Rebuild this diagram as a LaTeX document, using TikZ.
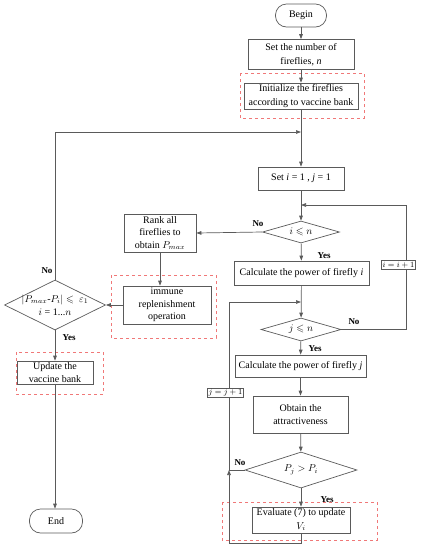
\documentclass[tikz,border=0pt]{standalone}
\usepackage{amssymb}
\usepackage{fontspec}
\setmainfont{Liberation Serif}
\usetikzlibrary{arrows.meta,shapes.geometric}
\definecolor{lc}{HTML}{5A5A5A}
\definecolor{dr}{HTML}{F07878}
\begin{document}
\begin{tikzpicture}[x=1pt,y=-1pt,
  box/.style={draw=lc, line width=0.7pt, rectangle, inner sep=0pt, align=center, font={\fontsize{10}{13.5}\selectfont}},
  box3/.style={box, font={\fontsize{10}{12.5}\selectfont}},
  term/.style={box, rounded corners=11pt},
  dia/.style={draw=lc, line width=0.7pt, diamond, inner sep=0pt},
  txt/.style={inner sep=0pt, align=center, font={\fontsize{10}{13}\selectfont}},
  lbl/.style={inner sep=0pt, font={\fontsize{9}{10}\selectfont\bfseries}},
  small/.style={draw=lc, line width=0.6pt, fill=white, inner sep=1.2pt, font={\fontsize{8.5}{9}\selectfont}},
  vac/.style={draw=dr, dashed, line width=0.7pt},
  ln/.style={draw=lc, line width=0.7pt},
  arr/.style={ln, -{Triangle[length=5pt,width=3.6pt]}}
]
\useasboundingbox (0,0) rectangle (426,550);

% dashed vaccine regions
\draw[vac] (240,73) rectangle (364,118);
\draw[vac] (111,275) rectangle (216,338);
\draw[vac] (16,352) rectangle (103,394);
\draw[vac] (222,502) rectangle (377,540);

% main column
\node[term, minimum width=51pt, minimum height=23pt] (begin) at (301,15.5) {Begin};
\node[box, minimum width=106pt, minimum height=30pt] (set) at (301,54.5) {Set the number of\\fireflies, \textit{n}};
\node[box, minimum width=114pt, minimum height=26pt] (init) at (301,96) {Initialize the fireflies\\according to vaccine bank};
\node[box, minimum width=86pt, minimum height=23pt] (seti) at (301,178.5) {Set \textit{i} = 1 , \textit{j} = 1};
\node[dia, minimum width=77pt, minimum height=22pt] (idia) at (301,232) {};
\node[txt] (idiat) at (301,232) {$i \leqslant n$};
\node[box, minimum width=135pt, minimum height=24pt] (calci) at (301.5,273) {Calculate the power of firefly \textit{i}};
\node[dia, minimum width=80pt, minimum height=23pt] (jdia) at (301,329.5) {};
\node[txt] (jdiat) at (301,329.5) {$j \leqslant n$};
\node[box, minimum width=131pt, minimum height=22pt] (calcj) at (300.5,366) {Calculate the power of firefly \textit{j}};
\node[box, minimum width=95pt, minimum height=37pt] (attr) at (300.5,414.5) {Obtain the\\attractiveness};
\node[dia, minimum width=112pt, minimum height=36pt] (pdia) at (301,470) {};
\node[txt] (pdiat) at (301,470) {$P_j > P_i$};
\node[box, minimum width=98pt, minimum height=26pt] (eval) at (301,520) {Evaluate (7) to update\\$V_i$};

% left column
\node[box3, minimum width=72pt, minimum height=38pt] (rank) at (160,233) {Rank all\\fireflies to\\obtain $P_{max}$};
\node[box3, minimum width=88pt, minimum height=38pt] (imm) at (167,305) {immune\\replenishment\\operation};
\node[dia, minimum width=101pt, minimum height=50pt] (ldia) at (55,305) {};
\node[txt] (ldiat) at (55,305) {$|P_{max}$-$P_i| \leqslant\ \varepsilon_1$\\$i$ = 1...$n$};
\node[box, minimum width=76pt, minimum height=23pt] (upd) at (55,372.5) {Update the\\vaccine bank};
\node[term, minimum width=53pt, minimum height=24pt] (end) at (56,521) {End};

% coordinates
\coordinate (lp) at (301,132);
\coordinate (ip) at (301,205);
\coordinate (rc) at (406,329.5);
\coordinate (jp) at (301,302);
\coordinate (jt) at (229,302);
\coordinate (jn) at (229,470);
\coordinate (jb) at (229,543);

% connectors
\draw[arr] (begin) -- (set);
\draw[arr] (set) -- (init);
\draw[arr] (init) -- (seti);
\draw[arr] (seti) -- (idia);
\draw[arr] (idia) -- (calci);
\draw[arr] (calci) -- (jdia);
\draw[arr] (jdia) -- (calcj);
\draw[arr] (calcj) -- (attr);
\draw[arr] (attr) -- (pdia);
\draw[arr] (pdia) -- (eval);
\draw[arr] (eval.south) |- (jb) -- (jn);
\draw[ln] (pdia.west) -- (jn);
\draw[arr] (jn) -- (jt) -- (jp);
\draw[arr] (jdia.east) -- (rc) |- (ip);
\draw[arr] (idia.west) -- (rank.east);
\draw[arr] (rank.south) -- (rank.south |- imm.north);
\draw[arr] (imm.west) -- (ldia.east);
\draw[arr] (ldia.north) |- (lp);
\draw[arr] (ldia.south) -- (upd.north);
\draw[arr] (upd.south) -- (upd.south |- end.north);

% loop counters
\node[small] (iinc) at (398.5,265) {$i = i + 1$};
\node[small] (jinc) at (225.5,393) {$j = j + 1$};

% labels
\node[lbl] (l1) at (258,224) {No};
\node[lbl] (l2) at (324,256) {Yes};
\node[lbl] (l3) at (354,322) {No};
\node[lbl] (l4) at (315,349) {Yes};
\node[lbl] (l5) at (240,463) {No};
\node[lbl] (l6) at (327,500) {Yes};
\node[lbl] (l7) at (47,271) {No};
\node[lbl] (l8) at (69,338) {Yes};
\end{tikzpicture}
\end{document}
